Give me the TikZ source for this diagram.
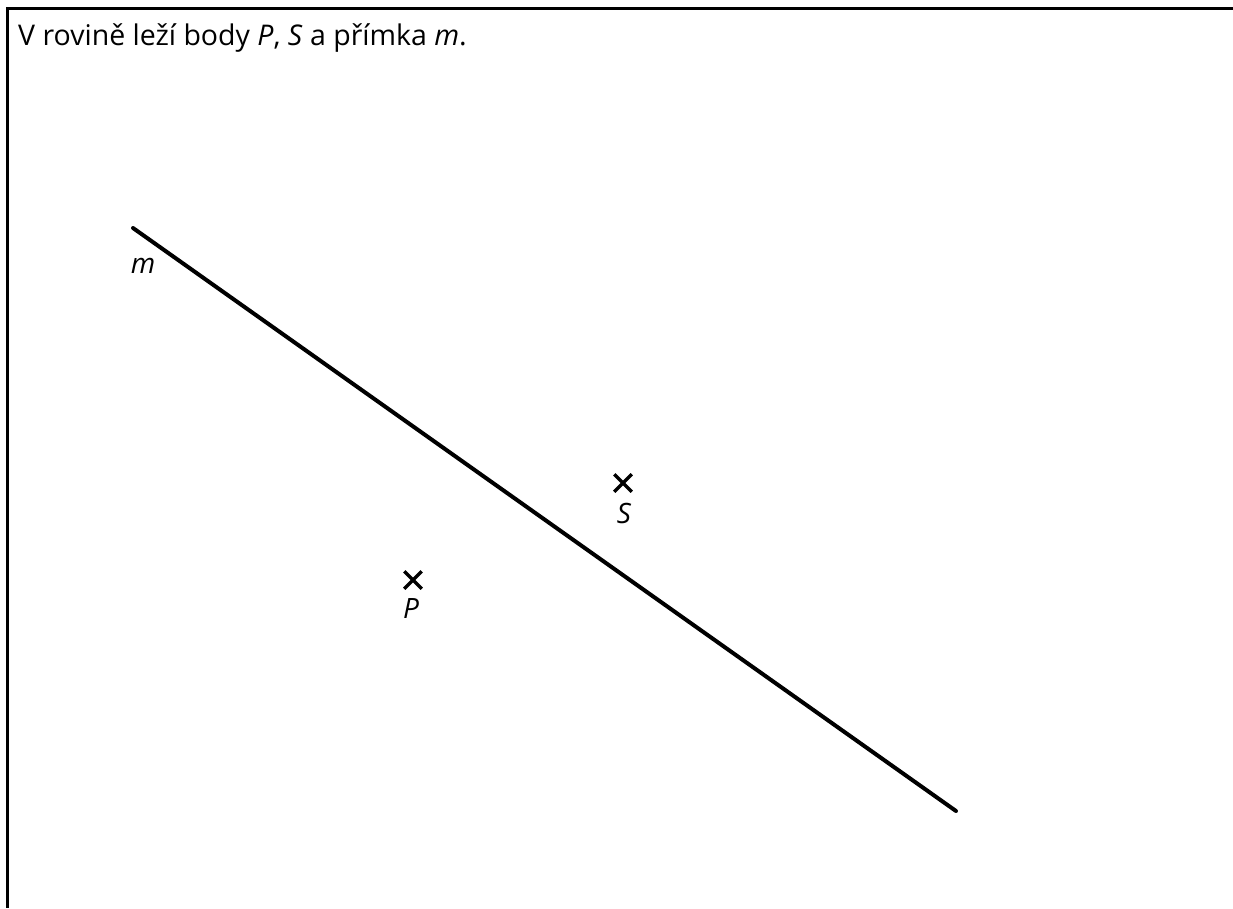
\documentclass[tikz,border=0pt]{standalone}
\usepackage{fontspec}
\setmainfont{Open Sans}
\usetikzlibrary{shapes.misc,positioning}
\tikzset{
  frame/.style={line width=3pt, draw=black},
  primka/.style={line width=4pt, draw=black, line cap=round},
  bod/.style={cross out, draw=black, line width=3.5pt, minimum size=14pt,
              inner sep=0pt},
  popis/.style={font=\fontsize{28}{32}\selectfont\itshape, inner sep=0pt},
  zadani/.style={font=\fontsize{28.5}{32}\selectfont, inner sep=0pt}
}
\begin{document}
\begin{tikzpicture}[x=1pt, y=-1pt]
\useasboundingbox (0,0) rectangle (1233,908);
% ramecek
\coordinate (r1) at (1233,8);
\coordinate (r2) at (7,8);
\coordinate (r3) at (7,908);
\draw[frame] (r1) -- (r2) -- (r3);
% zadani
\node[zadani, anchor=base west] (txt) at (18,45)
  {V rovině leží body \textit{P}, \textit{S} a přímka \textit{m}.};
% primka m
\coordinate (m1) at (133,228);
\coordinate (m2) at (956,811);
\draw[primka] (m1) -- (m2);
\node[popis, anchor=base] (lm) at (143,273) {m};
% body
\node[bod] (P) at (413,580) {};
\node[bod] (S) at (623,483) {};
\node[popis, anchor=base] (lP) at (411,618) {P};
\node[popis, anchor=base] (lS) at (624,523) {S};
\end{tikzpicture}
\end{document}
